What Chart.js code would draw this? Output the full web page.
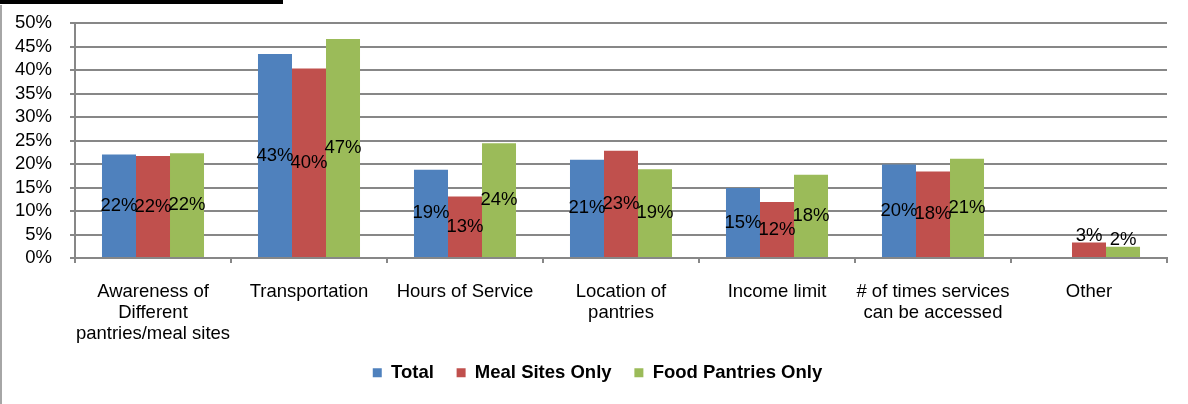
<!DOCTYPE html>
<html>
<head>
<meta charset="utf-8">
<script src="https://cdn.jsdelivr.net/npm/chart.js@4.4.1/dist/chart.umd.min.js"></script>
<style>
  html, body { margin: 0; padding: 0; background: #fff; }
  #wrap { position: relative; width: 1188px; height: 404px; overflow: hidden; }
  #topbar { position: absolute; left: 0; top: 0; width: 283px; height: 4px; background: #000; }
  #leftline { position: absolute; left: 0; top: 5px; width: 2px; height: 399px; background: #a6a6a6; }
  canvas { position: absolute; left: 0; top: 0; }
</style>
</head>
<body>
<div id="wrap">
  <div id="topbar"></div>
  <div id="leftline"></div>
  <canvas id="chart" width="1188" height="404"></canvas>
</div>
<script>
// categories
var categories = [
    ["Awareness of", "Different", "pantries/meal sites"],
    "Transportation",
    "Hours of Service",
    ["Location of", "pantries"],
    "Income limit",
    ["# of times services", "can be accessed"],
    "Other"
]

// series values (percent)
var total = [22.0, 43.4, 18.8, 20.9, 14.9, 19.9, 0]
var mealSites = [21.7, 40.3, 13.1, 22.8, 11.9, 18.4, 3.3]
var foodPantries = [22.3, 46.6, 24.4, 18.9, 17.7, 21.1, 2.4]

var seriesNames = ["Total", "Meal Sites Only", "Food Pantries Only"]

// y ticks
var yMin = 0
var yMax = 50
var yStep = 5

var colors = ['#4F81BD', '#C0504D', '#9BBB59']
var gridColor = '#878787'
var fontFamily = "'Liberation Sans', Arial, sans-serif"

// draws the value in the middle of every bar
var barLabels = {
    id: 'barLabels',
    afterLayout(chart) {
        // legend sits a little right of centre in the original
        chart.legend.left += 14
        chart.legend.right += 14
    },
    afterDatasetsDraw(chart) {
        var ctx = chart.ctx
        ctx.save()
        ctx.font = "18.5px " + fontFamily
        ctx.fillStyle = '#000'
        ctx.textAlign = 'center'
        ctx.textBaseline = 'middle'
        chart.data.datasets.forEach((ds, i) => {
            var meta = chart.getDatasetMeta(i)
            meta.data.forEach((bar, j) => {
                var v = ds.data[j]
                if (!v) return
                var y = (bar.y + bar.base) / 2
                if (bar.base - bar.y < 30) y = Math.min(y, bar.y - 7)
                ctx.fillText(Math.round(v) + '%', bar.x, y)
            })
        })
        ctx.restore()
    }
}

Chart.defaults.font.family = fontFamily
Chart.defaults.color = '#000'

var canvas = document.getElementById("chart").getContext("2d")
var graph = new Chart(canvas, {
    type: 'bar',
    data: {
        labels: categories,
        datasets: [
            { label: seriesNames[0], data: total, backgroundColor: colors[0] },
            { label: seriesNames[1], data: mealSites, backgroundColor: colors[1] },
            { label: seriesNames[2], data: foodPantries, backgroundColor: colors[2] }
        ]
    },
    options: {
        responsive: false,
        animation: false,
        devicePixelRatio: 1,
        layout: {
            padding: { left: 0, right: 21, top: 23, bottom: 12 }
        },
        datasets: {
            bar: {
                categoryPercentage: 0.654,
                barPercentage: 1.0,
                borderWidth: 0
            }
        },
        plugins: {
            tooltip: { enabled: false },
            legend: {
                position: 'bottom',
                labels: {
                    boxWidth: 9,
                    boxHeight: 9,
                    padding: 12.5,
                    color: '#000',
                    font: { size: 18.5, weight: 'bold' },
                    generateLabels: (chart) => {
                        var items = Chart.defaults.plugins.legend.labels.generateLabels(chart)
                        items.forEach((it, i) => {
                            if (i < items.length - 1) it.text = it.text + '  '
                        })
                        return items
                    }
                }
            }
        },
        scales: {
            x: {
                afterFit: (axis) => { axis.height = 93 },
                grid: {
                    offset: true,
                    drawOnChartArea: false,
                    drawTicks: true,
                    tickLength: 5,
                    color: gridColor,
                    lineWidth: 2
                },
                border: { color: gridColor, width: 2 },
                ticks: {
                    font: { size: 18.5, lineHeight: 1.12 },
                    color: '#000',
                    padding: 19,
                    maxRotation: 0,
                    autoSkip: false
                }
            },
            y: {
                min: yMin,
                max: yMax,
                afterFit: (axis) => {
                    axis.width = 75
                    axis.paddingTop = 0
                    axis.paddingBottom = 0
                },
                grid: {
                    color: gridColor,
                    lineWidth: 2,
                    tickLength: 5
                },
                border: { color: gridColor, width: 2 },
                ticks: {
                    stepSize: yStep,
                    autoSkip: false,
                    padding: 18,
                    color: '#000',
                    font: { size: 18.5 },
                    callback: (v) => v + '%'
                }
            }
        }
    },
    plugins: [barLabels]
})
</script>
</body>
</html>
